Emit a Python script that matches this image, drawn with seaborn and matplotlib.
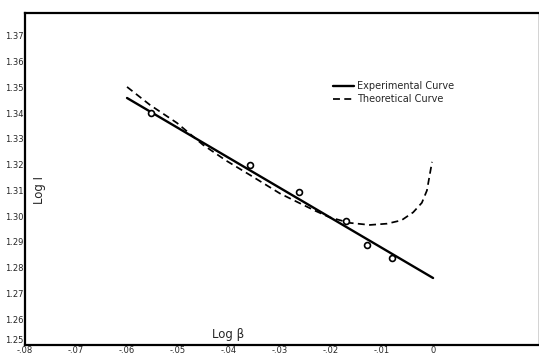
import numpy as np
import pandas as pd
import matplotlib
matplotlib.use("Agg")
import matplotlib.pyplot as plt
import seaborn as sns

# observed points (circles)
obs_log_beta = [-0.0553, -0.0359, -0.0263, -0.0171, -0.0129, -0.0080]
obs_log_i = [1.3401, 1.3199, 1.3094, 1.2982, 1.2888, 1.2838]

# experimental curve (straight fit)
exp_log_beta = [-0.0600, 0.0]
exp_log_i = [1.3459, 1.2760]

# theoretical curve
theo_log_beta = [-0.0600, -0.0555, -0.0502, -0.0451, -0.0405, -0.0359, -0.0300, -0.0261,
                 -0.0230, -0.0202, -0.0163, -0.0124, -0.0090, -0.0062, -0.0039,
                 -0.0022, -0.0012, -0.0002]
theo_log_i = [1.3502, 1.3432, 1.3362, 1.3277, 1.3215, 1.3160, 1.3088, 1.3050,
              1.3020, 1.2995, 1.2974, 1.2966, 1.2971, 1.2984, 1.3015,
              1.3052, 1.3100, 1.3211]

x_ticks = [-0.08, -0.07, -0.06, -0.05, -0.04, -0.03, -0.02, -0.01, 0.0]
x_tick_labels = ["-.08", "-.07", "-.06", "-.05", "-.04", "-.03", "-.02", "-.01", "0"]
y_ticks = [1.25, 1.26, 1.27, 1.28, 1.29, 1.30, 1.31, 1.32, 1.33, 1.34, 1.35, 1.36, 1.37]
y_tick_labels = ["1.25", "1.26", "1.27", "1.28", "1.29", "1.30", "1.31",
                 "1.32", "1.33", "1.34", "1.35", "1.36", "1.37"]

sns.set_style("white")
plt.rcParams['font.family'] = ['DejaVu Sans']

fig = plt.figure(figsize=(5.39, 3.56), dpi=100)
ax = fig.add_axes([0.0464, 0.031, 0.952, 0.9325])

exp_df = pd.DataFrame({"x": exp_log_beta, "y": exp_log_i})
theo_df = pd.DataFrame({"x": theo_log_beta, "y": theo_log_i})
obs_df = pd.DataFrame({"x": obs_log_beta, "y": obs_log_i})

sns.lineplot(data=exp_df, x="x", y="y", ax=ax, color="black", linewidth=1.7,
             sort=False, label="Experimental Curve")
sns.lineplot(data=theo_df, x="x", y="y", ax=ax, color="black", linewidth=1.25,
             linestyle=(0, (4, 2.5)), sort=False, label="Theoretical Curve")
sns.scatterplot(data=obs_df, x="x", y="y", ax=ax, marker="o", s=18,
                facecolor="white", edgecolor="black", linewidth=1.2, zorder=5)

ax.set_xlim(-0.08, 0.0206)
ax.set_ylim(1.25, 1.3789)

ax.set_xticks(x_ticks)
ax.set_xticklabels(x_tick_labels, fontsize=6)
ax.set_yticks(y_ticks)
ax.set_yticklabels(y_tick_labels, fontsize=6)
ax.tick_params(axis="both", length=0, pad=1)
# lift the lowest y label so it sits above the -.08 label
ax.get_yticklabels()[0].set_va("bottom")
ax.set_xlabel("")
ax.set_ylabel("")

for side in ["left", "bottom", "top"]:
    ax.spines[side].set_linewidth(1.6)
    ax.spines[side].set_color("black")
ax.spines["right"].set_linewidth(0.6)
ax.spines["right"].set_color("#cccccc")

ax.text(0.029, 0.467, "Log I", transform=ax.transAxes, rotation=90,
        ha="center", va="center", fontsize=8.5)
ax.text(0.396, 0.012, "Log \u03b2", transform=ax.transAxes,
        ha="center", va="bottom", fontsize=8.5)

ax.legend(loc="upper left", bbox_to_anchor=(0.59, 0.81), frameon=False,
          fontsize=7, handlelength=2.2, handletextpad=0.3, labelspacing=0.35,
          borderpad=0)

fig.savefig("out.png", dpi=100)
